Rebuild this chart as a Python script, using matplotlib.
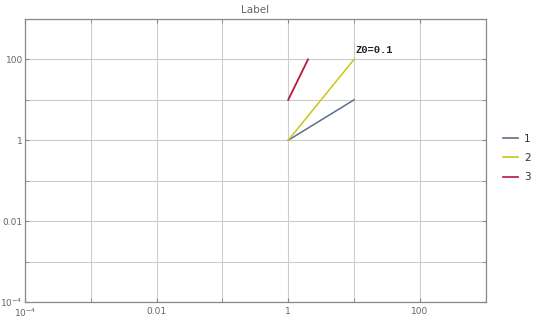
import numpy as np
import matplotlib.pyplot as plt
from matplotlib.lines import Line2D

# series data (x, y) on log-log axes
x1 = [1, 10]
y1 = [1, 10]
x2 = [1, 10]
y2 = [1, 100]
x3 = [1, 2]
y3 = [10, 100]
labels = ['1', '2', '3']
colors = ['#5d6f8c', '#c9c617', '#b5193b']

xticks = [1e-4, 1e-2, 1, 100]
xtick_labels = ['$10^{-4}$', '0.01', '1', '100']
yticks = [1e-4, 1e-2, 1, 100]
ytick_labels = ['$10^{-4}$', '0.01', '1', '100']
grid_decades = [1e-4, 1e-3, 1e-2, 1e-1, 1, 10, 100, 1000]

fig = plt.figure(figsize=(5.4, 3.25), dpi=100)
ax = fig.add_axes([25/540, 1 - 302/325, (485.6 - 25)/540, (302 - 19)/325])

ax.plot(x1, y1, color=colors[0], lw=1.1)
ax.plot(x2, y2, color=colors[1], lw=1.1)
ax.plot(x3, y3, color=colors[2], lw=1.3)

ax.set_xscale('log')
ax.set_yscale('log')
ax.set_xlim(1e-4, 1000)
ax.set_ylim(1e-4, 1000)

for g in grid_decades:
    ax.axvline(g, color='#cccccc', lw=0.8, zorder=0)
    ax.axhline(g, color='#cccccc', lw=0.8, zorder=0)

ax.set_xticks(grid_decades, minor=True)
ax.set_yticks(grid_decades, minor=True)
ax.set_xticks(xticks)
ax.set_xticklabels(xtick_labels)
ax.set_yticks(yticks)
ax.set_yticklabels(ytick_labels)
ax.tick_params(which='both', direction='in', length=3, color='#888888',
               labelsize=6.5, labelcolor='#666666', top=True, right=True)
ax.tick_params(axis='y', pad=1.5)
ax.tick_params(which='minor', labelbottom=False, labelleft=False)
for s in ax.spines.values():
    s.set_color('#888888')
    s.set_linewidth(0.9)

ax.set_title('Label', fontsize=7.5, color='#666666', pad=4)

ax.annotate('Z0=0.1', xy=(x2[-1], y2[-1]), xytext=(1, 3), textcoords='offset points',
            family='Liberation Mono', fontsize=7.5, fontweight='bold', color='#222222',
            ha='left', va='bottom')

handles = [Line2D([], [], color=c, lw=1.2) for c in colors]
fig.legend(handles, labels, loc='center left', bbox_to_anchor=(494/540, 1 - 158/325),
           frameon=False, fontsize=7.5, handlelength=1.4, handletextpad=0.6,
           labelspacing=0.9, labelcolor='#333333')

plt.savefig('out.png', dpi=100)
